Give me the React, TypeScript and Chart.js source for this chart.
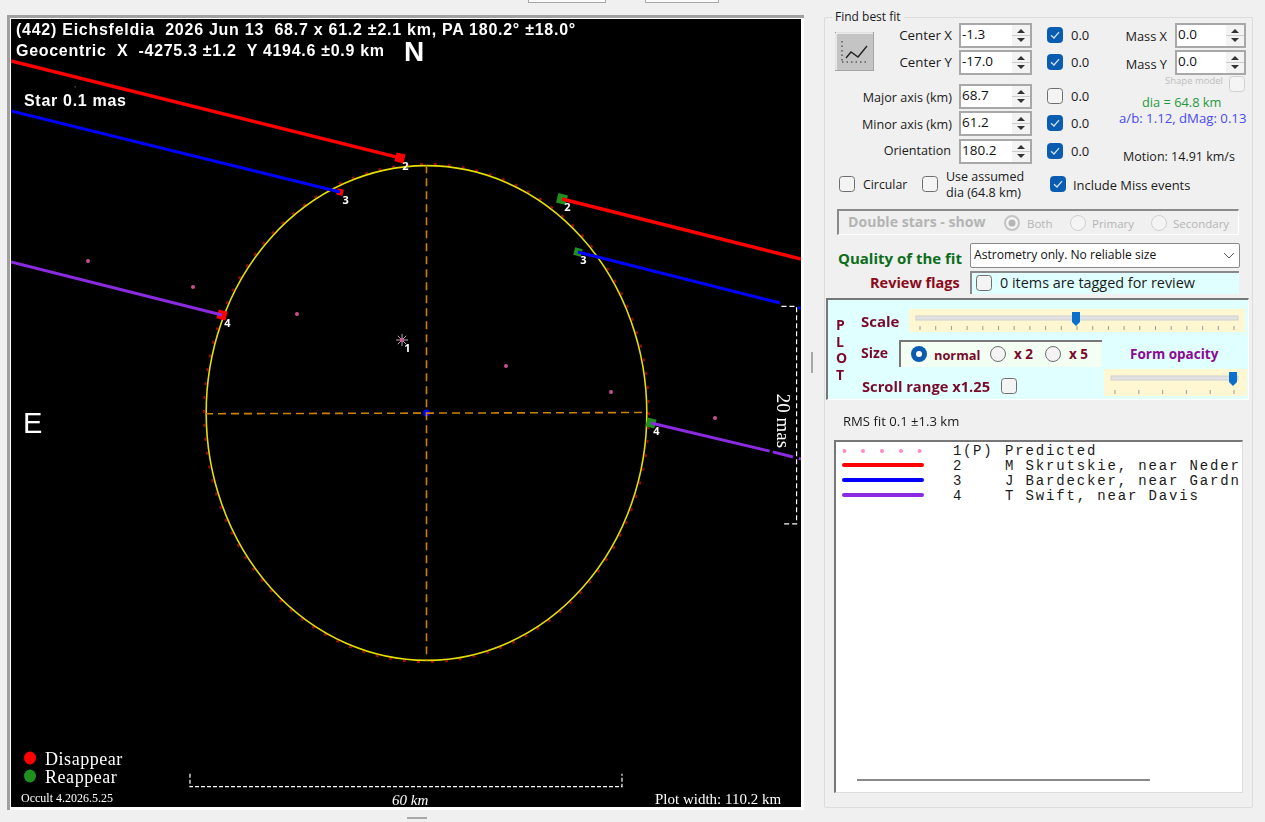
import React, { useEffect, useRef } from "react";
import { Chart, registerables } from "chart.js";

Chart.register(...registerables);

// ---- values (km on the sky plane, x to the right, y up) ----
const majorAxisKm = 68.7;
const minorAxisKm = 61.2;
const orientationOffsetDeg = 0.2;

const redChordWest = [{ x: -57.71, y: 48.89 }, { x: -3.68, y: 35.42 }];
const redChordEast = [{ x: 18.82, y: 29.72 }, { x: 52.01, y: 21.39 }];
const blueChordWest = [{ x: -57.71, y: 41.94 }, { x: -12.01, y: 30.69 }];
const blueChordEast = [{ x: 21.04, y: 22.36 }, { x: 49.1, y: 15.28 }, { x: null, y: null }, { x: 51.6, y: 14.65 }, { x: 52.01, y: 14.55 }];
const purpleChordWest = [{ x: -57.71, y: 20.97 }, { x: -28.4, y: 13.61 }];
const purpleChordEast = [{ x: 31.18, y: -1.39 }, { x: 47.65, y: -5.3 }, { x: null, y: null }, { x: 48.1, y: -5.4 }, { x: 50.9, y: -6.11 }, { x: null, y: null }, { x: 51.7, y: -6.3 }, { x: 52.01, y: -6.38 }];

const predictedPoints = [
  { x: -47.01, y: 21.11 },
  { x: -32.43, y: 17.5 },
  { x: -17.99, y: 13.75 },
  { x: -3.4, y: 10.14 },
  { x: 11.04, y: 6.53 },
  { x: 25.63, y: 2.92 },
  { x: 40.07, y: -0.69 },
];
const predictedStar = [{ x: -3.4, y: 10.14 }];

const disappearEvents = [
  { x: -3.68, y: 35.42 },
  { x: -12.01, y: 30.69 },
  { x: -28.4, y: 13.61 },
];
const reappearEvents = [
  { x: 18.82, y: 29.72 },
  { x: 21.04, y: 22.36 },
  { x: 31.18, y: -1.39 },
];
const disappearLabels = ["2", "3", "4"];
const reappearLabels = ["2", "3", "4"];
const starLabels = ["1"];

const majorAxisLine = [{ x: 0, y: 34.4 }, { x: 0, y: -34.4 }];
const minorAxisLine = [{ x: -30.76, y: -0.1 }, { x: 30.76, y: 0.07 }];
const centerPoint = [{ x: 0, y: 0 }];

const bracket60km = [
  { x: -32.85, y: -50.1 },
  { x: -32.85, y: -51.9 },
  { x: 27.15, y: -51.9 },
  { x: 27.15, y: -50.1 },
];
const bracket20mas = [
  { x: 49.3, y: 14.8 },
  { x: 51.4, y: 14.8 },
  { x: 51.4, y: -15.4 },
  { x: 49.3, y: -15.4 },
];
const faintSpeck = [{ x: -48.8, y: 45.3 }];

const xRange = [-57.708, 52.014];
const yRange = [-54.72, 54.72];

const legendRows = [
  { id: "1(P)", name: "Predicted" },
  { id: "2", name: "M Skrutskie, near Neder" },
  { id: "3", name: "J Bardecker, near Gardn" },
  { id: "4", name: "T Swift, near Davis" },
];

// ---- small helpers for the window chrome ----
type TP = { x: number; y: number; s?: number; c?: string; b?: boolean; f?: string; r?: boolean; ls?: number; i?: boolean; children: React.ReactNode };
const UI = "'Open Sans', 'Noto Sans', sans-serif";
const SERIF = "'Liberation Serif', serif";
const HEAD = "'Liberation Sans', sans-serif";
const T = ({ x, y, s = 12.3, c = "#1a1a1a", b, f = UI, r, ls, i, children }: TP) => (
  <span
    style={{
      position: "absolute", left: x, top: y, fontSize: s, color: c, fontWeight: b ? 700 : 400, fontFamily: f,
      fontStyle: i ? "italic" : "normal", whiteSpace: "pre", lineHeight: 1, letterSpacing: ls,
      transform: r ? "translate(-100%,-50%)" : "translateY(-50%)",
    }}
  >
    {children}
  </span>
);
const Box = ({ x, y, w, h, st }: { x: number; y: number; w: number; h: number; st?: React.CSSProperties }) => (
  <div style={{ position: "absolute", left: x, top: y, width: w, height: h, boxSizing: "border-box", ...st }} />
);
const Check = ({ x, y, on, dim }: { x: number; y: number; on?: boolean; dim?: boolean }) => (
  <svg style={{ position: "absolute", left: x, top: y }} width={16} height={16}>
    <rect x={0.5} y={0.5} width={15} height={15} rx={3} fill={on ? "#0a5cb0" : "#f4f4f4"} stroke={on ? "#0a5cb0" : dim ? "#d0d0d0" : "#6e6e6e"} />
    {on && <path d="M4 8.2 L7 11 L12 5.2" stroke="#cfe2f5" strokeWidth={1.3} fill="none" />}
  </svg>
);
const Radio = ({ x, y, on, dim }: { x: number; y: number; on?: boolean; dim?: boolean }) => (
  <svg style={{ position: "absolute", left: x, top: y }} width={16} height={16}>
    {on && !dim && <circle cx={8} cy={8} r={8} fill="#0a5cb0" />}
    {on && !dim && <circle cx={8} cy={8} r={3} fill="#fff" />}
    {on && dim && <circle cx={8} cy={8} r={7} fill="#f4f4f4" stroke="#c4c4c4" strokeWidth={2} />}
    {on && dim && <circle cx={8} cy={8} r={3.5} fill="#b5b5b5" />}
    {!on && <circle cx={8} cy={8} r={7.5} fill="#f4f4f4" stroke={dim ? "#cfcfcf" : "#6e6e6e"} />}
  </svg>
);
const Spin = ({ x, y, w = 73, v }: { x: number; y: number; w?: number; v: string }) => (
  <div style={{ position: "absolute", left: x, top: y, width: w, height: 25, boxSizing: "border-box", background: "#fff", border: "2px solid #a8a8a8" }}>
    <span style={{ position: "absolute", left: 1, top: 1, fontFamily: UI, fontSize: 13.5, color: "#111", lineHeight: "17px" }}>{v}</span>
    <svg style={{ position: "absolute", right: 0, top: 0, background: "#f3f3f3" }} width={18} height={21}>
      <path d="M5 8 L9 4 L13 8 Z" fill="#333" />
      <path d="M5 13 L9 17 L13 13 Z" fill="#333" />
      <path d="M0 10.5 H18" stroke="#ccc" />
    </svg>
  </div>
);
const Slider = ({ x, y, w, h, tx, tw, thumb, ticks }: { x: number; y: number; w: number; h: number; tx: number; tw: number; thumb: number; ticks: number }) => (
  <svg style={{ position: "absolute", left: x, top: y }} width={w} height={h}>
    <rect width={w} height={h} fill="#fff6d2" />
    <rect x={tx - x} y={7} width={tw} height={4} fill="#e2e2e2" stroke="#d0d0d0" />
    <path d={`M${thumb - x - 4} 3 h8 v10 l-4 4 l-4 -4 Z`} fill="#0a70cc" />
    {Array.from({ length: ticks }, (_, k) => (
      <path key={k} d={`M${tx - x + 4 + (k * (tw - 8)) / (ticks - 1)} ${h - 6} v4`} stroke="#9a9a9a" />
    ))}
  </svg>
);

// ---- plugin: the fitted limb plus event numbers, through the chart's own scales ----
const limbPlugin = {
  id: "limb",
  beforeDatasetsDraw(chart: any) {
    const { ctx, scales } = chart;
    const cx = scales.x.getPixelForValue(0);
    const cy = scales.y.getPixelForValue(0);
    const rx = scales.x.getPixelForValue(minorAxisKm / 2) - cx;
    const ry = cy - scales.y.getPixelForValue(majorAxisKm / 2);
    const rot = (orientationOffsetDeg * Math.PI) / 180;
    ctx.save();
    ctx.strokeStyle = "#9c0808";
    ctx.lineWidth = 2;
    ctx.setLineDash([3, 11]);
    ctx.beginPath();
    ctx.ellipse(cx, cy, rx + 2.2, ry + 1.8, -rot, 0, Math.PI * 2);
    ctx.stroke();
    ctx.setLineDash([]);
    ctx.strokeStyle = "#e6de00";
    ctx.lineWidth = 1.6;
    ctx.beginPath();
    ctx.ellipse(cx, cy, rx, ry, -rot, 0, Math.PI * 2);
    ctx.stroke();
    ctx.restore();
  },
  afterDatasetsDraw(chart: any) {
    const { ctx } = chart;
    ctx.save();
    ctx.fillStyle = "#ffffff";
    ctx.font = "bold 11px 'Open Sans', sans-serif";
    ctx.textAlign = "center";
    ctx.textBaseline = "middle";
    chart.data.datasets.forEach((ds: any, i: number) => {
      if (!ds.eventLabels) return;
      chart.getDatasetMeta(i).data.forEach((el: any, k: number) => {
        ctx.fillText(ds.eventLabels[k], el.x + 5.5, el.y + 9);
      });
    });
    ctx.restore();
  },
};

const chord = (data: any[], color: string, width: number) => ({
  type: "line", data, borderColor: color, borderWidth: width, pointRadius: 0, fill: false, spanGaps: false,
});

export default function App() {
  const ref = useRef<HTMLCanvasElement | null>(null);
  useEffect(() => {
    document.body.style.margin = "0";
    document.documentElement.style.overflow = "hidden";
    const chart = new Chart(ref.current as HTMLCanvasElement, {
      type: "scatter",
      data: {
        datasets: [
          { ...chord(majorAxisLine, "#c98300", 1.6), borderDash: [8, 5] },
          { ...chord(minorAxisLine, "#c98300", 1.6), borderDash: [8, 5] },
          chord(redChordWest, "#ff0000", 3.4),
          chord(redChordEast, "#ff0000", 3.4),
          chord(blueChordWest, "#0000ff", 3),
          chord(blueChordEast, "#0000ff", 3),
          chord(purpleChordWest, "#8a2be2", 3),
          chord(purpleChordEast, "#8a2be2", 3),
          { ...chord(bracket60km, "#ffffff", 1.2), borderDash: [4, 2] },
          { ...chord(bracket20mas, "#ffffff", 1.2), borderDash: [5, 3] },
          { data: predictedPoints, pointRadius: 2, backgroundColor: "#c8508f", borderWidth: 0 },
          {
            data: predictedStar, pointStyle: "star", pointRadius: 6, borderColor: "#b9a9b4", borderWidth: 1,
            backgroundColor: "#b9a9b4", eventLabels: starLabels,
          },
          { data: predictedStar, pointRadius: 2, backgroundColor: "#ff69b4", borderWidth: 0 },
          {
            data: disappearEvents, pointStyle: "rect", rotation: 14, pointRadius: [6.5, 4.5, 6.5], backgroundColor: "#ff0000",
            borderWidth: 0, eventLabels: disappearLabels,
          },
          {
            data: reappearEvents, pointStyle: "rect", rotation: 14, pointRadius: [7, 5.5, 6.5], backgroundColor: "#1f8f1f",
            borderWidth: 0, eventLabels: reappearLabels,
          },
          { data: centerPoint, pointRadius: 3.5, backgroundColor: "#0000ff", borderWidth: 0 },
          { data: faintSpeck, pointRadius: 0.7, backgroundColor: "#888888", borderWidth: 0 },
        ] as any,
      },
      options: {
        responsive: false,
        animation: false,
        devicePixelRatio: 1,
        layout: { padding: 0, autoPadding: false },
        scales: {
          x: { type: "linear", display: false, min: xRange[0], max: xRange[1] },
          y: { type: "linear", display: false, min: yRange[0], max: yRange[1] },
        },
        plugins: { legend: { display: false }, tooltip: { enabled: false }, title: { display: false } },
      } as any,
      plugins: [limbPlugin as any],
    });
    return () => chart.destroy();
  }, []);

  const MAROON = "#7a0a2a";
  return (
    <div style={{ position: "absolute", left: 0, top: 0, width: 1265, height: 822, overflow: "hidden", background: "#f0f0f0", filter: "blur(0.35px)" }}>
      {/* top buttons clipped by the screenshot */}
      <Box x={528} y={-4} w={78} h={7} st={{ background: "#fbfbfb", border: "1px solid #a8a8a8" }} />
      <Box x={645} y={-4} w={74} h={7} st={{ background: "#fbfbfb", border: "1px solid #a8a8a8" }} />

      {/* plot frame */}
      <Box x={7} y={15} w={797} h={795} st={{ background: "#fff", borderTop: "3px solid #a0a0a0", borderLeft: "3px solid #a0a0a0" }} />
      <canvas ref={ref} width={790} height={788} style={{ position: "absolute", left: 11, top: 19, width: 790, height: 788, background: "#000" }} />

      {/* text on the plot */}
      <T x={16} y={30} s={16} ls={0.74} c="#fff" b f={HEAD}>{"(442) Eichsfeldia  2026 Jun 13  68.7 x 61.2 ±2.1 km, PA 180.2° ±18.0°"}</T>
      <T x={16} y={51} s={16} ls={0.7} c="#fff" b f={HEAD}>{"Geocentric  X  -4275.3 ±1.2  Y 4194.6 ±0.9 km"}</T>
      <T x={404} y={52} s={28} c="#fff" b f={HEAD}>N</T>
      <T x={23} y={423} s={29} c="#fff" f={HEAD}>E</T>
      <T x={24} y={101} s={16} ls={0.7} c="#fff" b f={HEAD}>Star 0.1 mas</T>
      <span style={{ position: "absolute", left: 783, top: 421, fontFamily: SERIF, fontSize: 19, color: "#fff", whiteSpace: "pre", lineHeight: 1, transform: "translate(-50%,-50%) rotate(90deg)" }}>20 mas</span>

      <svg style={{ position: "absolute", left: 22, top: 750 }} width={16} height={34}>
        <ellipse cx={8} cy={8} rx={6} ry={6.5} fill="#ff0000" />
        <ellipse cx={8} cy={26} rx={6} ry={6.5} fill="#1f8f1f" />
      </svg>
      <T x={45} y={759} s={18} ls={0.55} c="#fff" f={SERIF}>Disappear</T>
      <T x={45} y={777} s={18} ls={0.55} c="#fff" f={SERIF}>Reappear</T>
      <T x={21} y={798} s={12} c="#fff" f={SERIF}>Occult 4.2026.5.25</T>
      <T x={392} y={800} s={15} c="#fff" f={SERIF} i>60 km</T>
      <T x={655} y={799} s={15} c="#fff" f={SERIF}>Plot width: 110.2 km</T>

      {/* splitter handles */}
      <Box x={407} y={817} w={20} h={2} st={{ background: "#a8a8a8" }} />
      <Box x={811} y={352} w={2} h={21} st={{ background: "#a8a8a8" }} />

      {/* right panel */}
      <Box x={824} y={17} w={429} h={791} st={{ border: "1px solid #dcdcdc", borderRadius: 2 }} />
      <Box x={832} y={10} w={72} h={14} st={{ background: "#f0f0f0" }} />
      <T x={835} y={17} s={12}>Find best fit</T>
      <svg style={{ position: "absolute", left: 835, top: 32 }} width={39} height={39}>
        <rect width={39} height={39} fill="#c4c4c4" stroke="#888" />
        <path d="M1 1 H38 M1 1 V38" stroke="#f5f5f5" strokeWidth={1.5} />
        <path d="M7 9 V30 M7 30 H32" stroke="#222" strokeDasharray="1.5 3" />
        <path d="M11 26 L16 20 L23 25 L32 14" stroke="#222" strokeWidth={1.4} fill="none" />
      </svg>

      <T x={952} y={36} s={13.3} r>Center X</T>
      <T x={952} y={63} s={13.3} r>Center Y</T>
      <T x={952} y={98} s={12.6} r>Major axis (km)</T>
      <T x={952} y={125} s={12.6} r>Minor axis (km)</T>
      <T x={951} y={151} s={12.6} r>Orientation</T>
      <Spin x={959} y={23} v="-1.3" />
      <Spin x={959} y={50} v="-17.0" />
      <Spin x={959} y={84} v="68.7" />
      <Spin x={959} y={111} v="61.2" />
      <Spin x={959} y={139} v="180.2" />
      <Check x={1047} y={27} on />
      <Check x={1047} y={54} on />
      <Check x={1047} y={88} />
      <Check x={1047} y={115} on />
      <Check x={1047} y={143} on />
      {[35, 62, 96, 123, 151].map((y) => <T key={y} x={1071} y={y} s={13}>0.0</T>)}

      <T x={1167} y={36} s={12.8} r>Mass X</T>
      <T x={1167} y={64} s={12.8} r>Mass Y</T>
      <Spin x={1175} y={23} w={71} v="0.0" />
      <Spin x={1175} y={50} w={71} v="0.0" />
      <T x={1165} y={81} s={9.5} c="#bdbdbd">Shape model</T>
      <Check x={1229} y={76} dim />
      <T x={1142} y={102} s={12.8} c="#1e9a3c">dia = 64.8 km</T>
      <T x={1119} y={119} s={13.2} c="#4a4af0">a/b: 1.12, dMag: 0.13</T>
      <T x={1123} y={157} s={12.5}>Motion: 14.91 km/s</T>

      <Check x={839} y={176} />
      <T x={863} y={185}>Circular</T>
      <Check x={922} y={176} />
      <T x={946} y={177} s={12.5}>Use assumed</T>
      <T x={946} y={193} s={12.6}>dia (64.8 km)</T>
      <Check x={1050} y={176} on />
      <T x={1073} y={185} s={12.9}>Include Miss events</T>

      <Box x={837} y={209} w={402} h={26} st={{ borderTop: "2px solid #8a8a8a", borderLeft: "2px solid #8a8a8a", borderRight: "1px solid #fff", borderBottom: "1px solid #fff" }} />
      <T x={848} y={222} s={14.1} b c="#b4b4b4">Double stars - show</T>
      <Radio x={1004} y={215} on dim />
      <T x={1027} y={224} s={11.5} c="#b4b4b4">Both</T>
      <Radio x={1070} y={215} dim />
      <T x={1092} y={224} s={11.5} c="#b4b4b4">Primary</T>
      <Radio x={1151} y={215} dim />
      <T x={1173} y={224} s={11.5} c="#b4b4b4">Secondary</T>

      <T x={838} y={258} s={15} b c="#0b6e1a">Quality of the fit</T>
      <Box x={970} y={243} w={270} h={25} st={{ background: "#fff", border: "1px solid #8a8a8a", borderRadius: 2 }} />
      <T x={974} y={255} s={12.1} c="#111">Astrometry only. No reliable size</T>
      <svg style={{ position: "absolute", left: 1222, top: 251 }} width={14} height={10}><path d="M2 2 L7 7 L12 2" stroke="#555" fill="none" /></svg>

      <T x={870} y={283} s={14.5} b c="#8b0a1a">Review flags</T>
      <Box x={970} y={271} w={269} h={23} st={{ background: "#e0ffff", borderTop: "2px solid #8a8a8a", borderLeft: "2px solid #8a8a8a" }} />
      <Check x={976} y={275} />
      <T x={1000} y={283} s={14.4}>0 items are tagged for review</T>

      <Box x={826} y={298} w={423} h={102} st={{ background: "#e0ffff", borderTop: "2px solid #777", borderLeft: "2px solid #777", borderRight: "1px solid #fff", borderBottom: "1px solid #fff" }} />
      {["P", "L", "O", "T"].map((ch, k) => <T key={ch} x={836} y={325 + k * 16.5} s={14} b c={MAROON}>{ch}</T>)}
      <T x={861} y={321} s={15} b c={MAROON}>Scale</T>
      <Slider x={909} y={309} w={336} h={23} tx={916} tw={322} thumb={1076} ticks={21} />
      <T x={861} y={353} s={14} b c={MAROON}>Size</T>
      <Box x={899} y={340} w={203} h={27} st={{ background: "#f3fff3", borderTop: "2px solid #777", borderLeft: "2px solid #777" }} />
      <Radio x={911} y={346} on />
      <T x={934} y={355} s={12.8} b c={MAROON}>normal</T>
      <Radio x={990} y={346} />
      <T x={1014} y={355} s={13.5} b c={MAROON}>x 2</T>
      <Radio x={1045} y={346} />
      <T x={1069} y={355} s={13.5} b c={MAROON}>x 5</T>
      <T x={1130} y={355} s={13.5} b c="#8a0a96">Form opacity</T>
      <T x={862} y={386} s={14.7} b c={MAROON}>Scroll range x1.25</T>
      <Check x={1001} y={378} />
      <Slider x={1104} y={369} w={143} h={27} tx={1111} tw={127} thumb={1233} ticks={6} />

      <T x={843} y={422} s={13.1}>RMS fit 0.1 ±1.3 km</T>

      <Box x={834} y={440} w={409} h={353} st={{ background: "#fff", borderTop: "2px solid #777", borderLeft: "2px solid #777", borderRight: "1px solid #ddd", borderBottom: "1px solid #ddd" }} />
      <svg style={{ position: "absolute", left: 836, top: 445 }} width={95} height={56}>
        {[8.5, 27, 46, 65, 83.5].map((x) => <circle key={x} cx={x} cy={6} r={2} fill="#ff8ac6" />)}
        <path d="M8 20 H86" stroke="#ff0000" strokeWidth={4} strokeLinecap="round" />
        <path d="M8 35 H86" stroke="#0000ff" strokeWidth={4} strokeLinecap="round" />
        <path d="M8 50 H86" stroke="#8a2be2" strokeWidth={4} strokeLinecap="round" />
      </svg>
      {legendRows.map((row, k) => (
        <React.Fragment key={row.id}>
          <T x={953} y={451 + k * 15} s={14} f={"'Liberation Mono', monospace"} ls={1.65}>{row.id}</T>
          <div style={{ position: "absolute", left: 1005, top: 444 + k * 15, width: 236, height: 15, overflow: "hidden" }}>
            <span style={{ position: "absolute", left: 0, top: 0, fontFamily: "'Liberation Mono', monospace", fontSize: 14, lineHeight: "15px", letterSpacing: 1.85, whiteSpace: "pre", color: "#1a1a1a" }}>{row.name}</span>
          </div>
        </React.Fragment>
      ))}
      <Box x={857} y={779} w={293} h={2} st={{ background: "#8a8a8a" }} />
    </div>
  );
}
